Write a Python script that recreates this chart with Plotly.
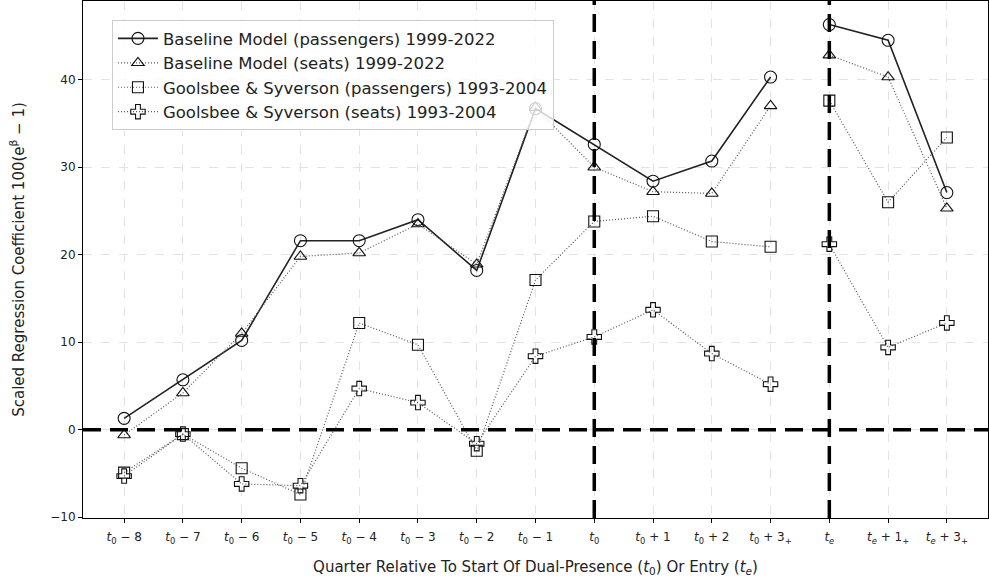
import plotly.graph_objects as go

categories = ["t0-8", "t0-7", "t0-6", "t0-5", "t0-4", "t0-3", "t0-2", "t0-1",
              "t0", "t0+1", "t0+2", "t0+3+", "te", "te+1+", "te+3+"]
tick_labels = ["<i>t</i><sub>0</sub> − 8", "<i>t</i><sub>0</sub> − 7", "<i>t</i><sub>0</sub> − 6",
               "<i>t</i><sub>0</sub> − 5", "<i>t</i><sub>0</sub> − 4", "<i>t</i><sub>0</sub> − 3",
               "<i>t</i><sub>0</sub> − 2", "<i>t</i><sub>0</sub> − 1", "<i>t</i><sub>0</sub>",
               "<i>t</i><sub>0</sub> + 1", "<i>t</i><sub>0</sub> + 2", "<i>t</i><sub>0</sub> + 3<sub>+</sub>",
               "<i>t<sub>e</sub></i>", "<i>t<sub>e</sub></i> + 1<sub>+</sub>", "<i>t<sub>e</sub></i> + 3<sub>+</sub>"]

base_passengers = [1.3, 5.7, 10.2, 21.6, 21.6, 24.0, 18.2, 36.7, 32.6, 28.4, 30.7, 40.3, 46.3, 44.5, 27.1]
base_seats = [-0.6, 4.2, 11.0, 19.8, 20.2, 23.5, 18.9, 36.8, 30.0, 27.2, 27.0, 37.0, 42.8, 40.3, 25.3]
gs_passengers = [-4.9, -0.5, -4.4, -7.4, 12.2, 9.7, -2.4, 17.1, 23.8, 24.4, 21.5, 20.9, 37.6, 26.0, 33.4]
gs_seats = [-5.3, -0.5, -6.2, -6.4, 4.7, 3.1, -1.6, 8.4, 10.6, 13.7, 8.7, 5.2, 21.2, 9.4, 12.2]

split = 12  # index of te: series are broken between t0+3+ and te
xs = list(range(len(categories)))

series = [
    ("Baseline Model (passengers) 1999-2022", base_passengers, "circle-open", "solid", "#222222", 1.6, 12),
    ("Baseline Model (seats) 1999-2022", base_seats, "triangle-up-open", "1px,2px", "#555555", 1.2, 11),
    ("Goolsbee & Syverson (passengers) 1993-2004", gs_passengers, "square-open", "1px,2px", "#555555", 1.2, 11),
    ("Goolsbee & Syverson (seats) 1993-2004", gs_seats, "cross-open", "1px,2px", "#555555", 1.2, 12),
]

fig = go.Figure()
for i, (name, vals, sym, dash, col, lw, ms) in enumerate(series):
    for seg, (a, b) in enumerate([(0, split), (split, len(xs))]):
        fig.add_trace(go.Scatter(
            x=xs[a:b], y=vals[a:b], mode="lines+markers", name=name,
            legendgroup=name, showlegend=(seg == 0),
            line=dict(color=col, width=lw, dash=dash),
            marker=dict(symbol=sym, size=ms, color="#111111", line=dict(width=1.1, color="#111111")),
        ))

dash_line = dict(color="black", width=3.5, dash="18px,9px")
fig.add_shape(type="line", xref="paper", yref="y", x0=0, x1=1, y0=0, y1=0, line=dash_line, layer="above")
for xi in (categories.index("t0"), categories.index("te")):
    fig.add_shape(type="line", xref="x", yref="paper", x0=xi, x1=xi, y0=0, y1=1, line=dash_line, layer="above")

axis_common = dict(showline=True, linecolor="black", linewidth=1, mirror=True,
                   ticks="outside", ticklen=4, tickcolor="black",
                   showgrid=True, gridcolor="#e3e3e3", griddash="dash", gridwidth=1,
                   zeroline=False, automargin=False, tickfont=dict(size=12, color="#222222"))

fig.update_layout(
    width=989, height=582,
    margin=dict(l=83, r=1, t=1, b=64),
    plot_bgcolor="white", paper_bgcolor="white",
    font=dict(family="DejaVu Sans", color="#222222"),
    xaxis=dict(range=[-0.7, 14.7], tickmode="array", tickvals=xs, ticktext=tick_labels,
               ticklabelstandoff=4,
               title=dict(text="Quarter Relative To Start Of Dual-Presence (<i>t</i><sub>0</sub>) Or Entry (<i>t<sub>e</sub></i>)",
                          font=dict(size=15), standoff=16), **axis_common),
    yaxis=dict(range=[-10.09, 48.99], tickmode="array", tickvals=[-10, 0, 10, 20, 30, 40],
               ticktext=["−10", "0", "10", "20", "30", "40"],
               title=dict(text="Scaled Regression Coefficient 100(e<sup>β</sup> − 1)", font=dict(size=15), standoff=22),
               **axis_common),
    legend=dict(x=0.032, y=0.963, xanchor="left", yanchor="top",
                bgcolor="rgba(255,255,255,0.8)", bordercolor="#cccccc", borderwidth=1,
                font=dict(size=16.5, color="#222222"), tracegroupgap=0, itemwidth=40),
    showlegend=True,
)

fig.write_html("out.html", post_script="document.body.style.margin='0';",
               config={"displayModeBar": False})
